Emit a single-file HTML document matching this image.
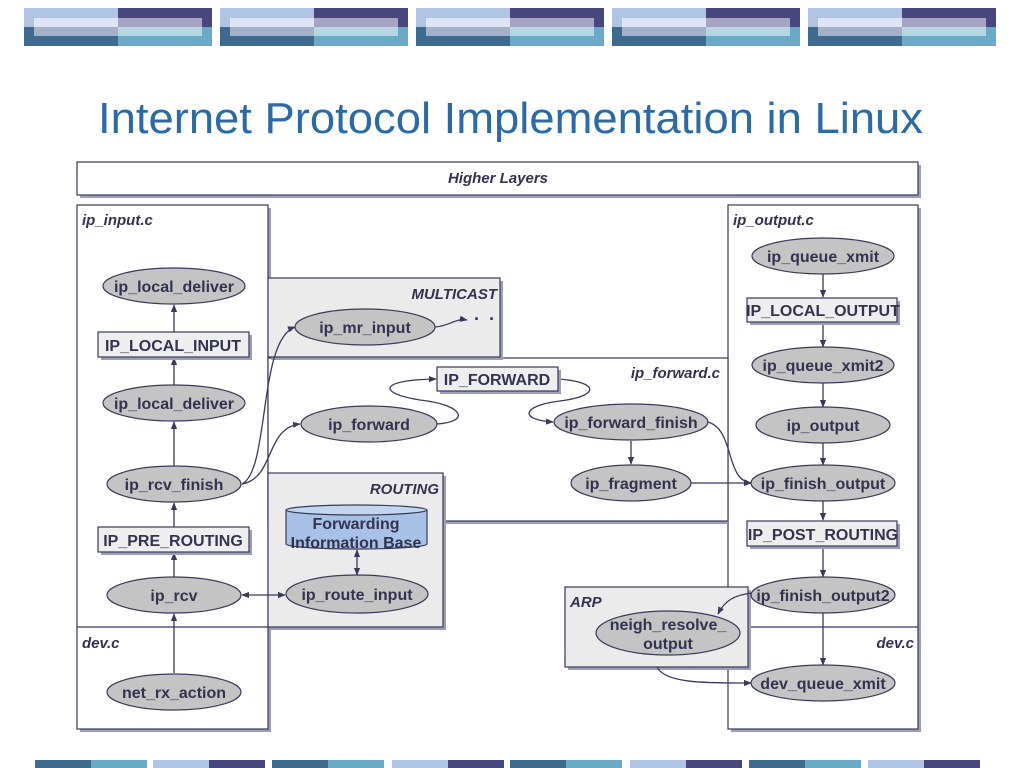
<!DOCTYPE html>
<html><head><meta charset="utf-8"><style>
html,body{margin:0;padding:0;background:#fff;width:1024px;height:768px;overflow:hidden}
svg{display:block}
.t{font-family:"Liberation Sans",sans-serif;font-weight:bold;font-size:16px;fill:#333350;text-anchor:middle}
.h{font-family:"Liberation Sans",sans-serif;font-weight:bold;font-style:italic;font-size:15px;fill:#333350}
.e{fill:#c4c4c4;stroke:#3a3a5a;stroke-width:1.2}
.r{fill:#eeeeee;stroke:#3a3a5a;stroke-width:1.2}
.sh{fill:#9aa0b8}
.ln{fill:none;stroke:#3a3a5a;stroke-width:1.3}
</style></head><body>
<svg width="1024" height="768" viewBox="0 0 1024 768" xmlns="http://www.w3.org/2000/svg">
<defs>
<marker id="a" viewBox="0 0 10 10" refX="9" refY="5" markerWidth="6" markerHeight="6" orient="auto-start-reverse"><path d="M0,1 L10,5 L0,9 z" fill="#3a3a5a"/></marker>
<g id="blk">
<rect x="0" y="0" width="94" height="19" fill="#b0c4e4"/>
<rect x="0" y="19" width="94" height="19" fill="#3d6a8e"/>
<rect x="94" y="0" width="94" height="19" fill="#47467f"/>
<rect x="94" y="19" width="94" height="19" fill="#6aaac6"/>
<rect x="10" y="10" width="84" height="9" fill="#dde4f3"/>
<rect x="10" y="19" width="84" height="9" fill="#a3b0c8"/>
<rect x="94" y="10" width="84" height="9" fill="#a7a3c2"/>
<rect x="94" y="19" width="84" height="9" fill="#b7d6e2"/>
</g>
</defs>
<use href="#blk" x="24" y="8"/><use href="#blk" x="220" y="8"/><use href="#blk" x="416" y="8"/><use href="#blk" x="612" y="8"/><use href="#blk" x="808" y="8"/>
<!-- bottom bars -->
<g>
<rect x="35" y="760" width="56" height="8" fill="#3d6a8e"/><rect x="91" y="760" width="56" height="8" fill="#6aaac6"/>
<rect x="153" y="760" width="56" height="8" fill="#b0c4e4"/><rect x="209" y="760" width="56" height="8" fill="#47467f"/>
<rect x="272" y="760" width="56" height="8" fill="#3d6a8e"/><rect x="328" y="760" width="56" height="8" fill="#6aaac6"/>
<rect x="392" y="760" width="56" height="8" fill="#b0c4e4"/><rect x="448" y="760" width="56" height="8" fill="#47467f"/>
<rect x="510" y="760" width="56" height="8" fill="#3d6a8e"/><rect x="566" y="760" width="56" height="8" fill="#6aaac6"/>
<rect x="630" y="760" width="56" height="8" fill="#b0c4e4"/><rect x="686" y="760" width="56" height="8" fill="#47467f"/>
<rect x="749" y="760" width="56" height="8" fill="#3d6a8e"/><rect x="805" y="760" width="56" height="8" fill="#6aaac6"/>
<rect x="868" y="760" width="56" height="8" fill="#b0c4e4"/><rect x="924" y="760" width="56" height="8" fill="#47467f"/>
</g>
<text x="98" y="133" textLength="825" lengthAdjust="spacingAndGlyphs" style="font-family:'Liberation Sans',sans-serif;font-size:44px;fill:#2b6aa6">Internet Protocol Implementation in Linux</text>

<!-- Higher layers -->
<rect class="sh" x="80" y="165" width="841" height="33"/>
<rect x="77" y="162" width="841" height="33" fill="#fff" stroke="#3a3a5a" stroke-width="1.2"/>
<text class="h" x="498" y="183" text-anchor="middle">Higher Layers</text>

<!-- ip_input box -->
<rect class="sh" x="80" y="208" width="191" height="524"/>
<rect x="77" y="205" width="191" height="524" fill="#fff" stroke="#3a3a5a" stroke-width="1.2"/>
<line x1="77" y1="627" x2="268" y2="627" stroke="#3a3a5a" stroke-width="1.2"/>
<text class="h" x="82" y="225">ip_input.c</text>
<text class="h" x="82" y="648">dev.c</text>

<!-- ip_output box -->
<rect class="sh" x="731" y="208" width="190" height="524"/>
<rect x="728" y="205" width="190" height="524" fill="#fff" stroke="#3a3a5a" stroke-width="1.2"/>
<line x1="728" y1="627" x2="918" y2="627" stroke="#3a3a5a" stroke-width="1.2"/>
<text class="h" x="733" y="225">ip_output.c</text>
<text class="h" x="914" y="648" text-anchor="end">dev.c</text>

<!-- ip_forward box -->
<rect class="sh" x="271" y="361" width="457" height="163"/>
<rect x="268" y="358" width="460" height="163" fill="#fff" stroke="#3a3a5a" stroke-width="1.2"/>
<text class="h" x="720" y="378" text-anchor="end">ip_forward.c</text>

<!-- MULTICAST -->
<rect class="sh" x="271" y="281" width="232" height="79"/>
<rect x="268" y="278" width="232" height="79" fill="#ebebeb" stroke="#3a3a5a" stroke-width="1.2"/>
<text class="h" x="497" y="299" text-anchor="end">MULTICAST</text>

<!-- ROUTING -->
<rect class="sh" x="271" y="476" width="175" height="154"/>
<rect x="268" y="473" width="175" height="154" fill="#ebebeb" stroke="#3a3a5a" stroke-width="1.2"/>
<text class="h" x="439" y="494" text-anchor="end">ROUTING</text>

<!-- ARP -->
<rect class="sh" x="568" y="590" width="183" height="80"/>
<rect x="565" y="587" width="183" height="80" fill="#ebebeb" stroke="#3a3a5a" stroke-width="1.2"/>
<text class="h" x="570" y="607">ARP</text>

<!-- edges -->
<g class="ln">
<line x1="174" y1="673" x2="174" y2="614" marker-end="url(#a)"/>
<line x1="174" y1="577" x2="174" y2="553" marker-end="url(#a)"/>
<line x1="174" y1="527" x2="174" y2="503" marker-end="url(#a)"/>
<line x1="174" y1="466" x2="174" y2="422" marker-end="url(#a)"/>
<line x1="174" y1="385" x2="174" y2="358" marker-end="url(#a)"/>
<line x1="174" y1="332" x2="174" y2="305" marker-end="url(#a)"/>
<path d="M242,484 C270,470 258,340 295,327" marker-end="url(#a)"/>
<path d="M242,484 C275,478 265,428 300,424" marker-end="url(#a)"/>
<line x1="242" y1="595" x2="285" y2="595" marker-start="url(#a)" marker-end="url(#a)"/>
<line x1="357" y1="550" x2="357" y2="575" marker-start="url(#a)" marker-end="url(#a)"/>
<path d="M435,327 C450,326 455,318 467,320" marker-end="url(#a)"/>
<path d="M437,424 C470,422 465,405 420,400 C380,394 375,380 436,379" marker-end="url(#a)"/>
<path d="M558,379 C600,382 600,396 560,401 C520,406 520,420 553,422" marker-end="url(#a)"/>
<line x1="631" y1="441" x2="631" y2="464" marker-end="url(#a)"/>
<path d="M708,422 C735,430 725,480 751,483" marker-end="url(#a)"/>
<line x1="691" y1="483" x2="751" y2="483" marker-end="url(#a)"/>
<line x1="823" y1="274" x2="823" y2="297" marker-end="url(#a)"/>
<line x1="823" y1="322" x2="823" y2="347" marker-end="url(#a)"/>
<line x1="823" y1="383" x2="823" y2="407" marker-end="url(#a)"/>
<line x1="823" y1="443" x2="823" y2="465" marker-end="url(#a)"/>
<line x1="823" y1="501" x2="823" y2="520" marker-end="url(#a)"/>
<line x1="823" y1="546" x2="823" y2="577" marker-end="url(#a)"/>
<line x1="823" y1="613" x2="823" y2="665" marker-end="url(#a)"/>
<path d="M752,593 C735,595 725,600 718,614" marker-end="url(#a)"/>
<path d="M657,667 C665,684 710,683 751,683" marker-end="url(#a)"/>
</g>
<text x="478" y="325" class="t" style="font-size:18px;letter-spacing:2px">· · ·</text>

<!-- rect nodes -->
<g>
<rect class="sh" x="101" y="335" width="151" height="25"/><rect class="r" x="98" y="332" width="151" height="25"/>
<text class="t" x="173" y="351">IP_LOCAL_INPUT</text>
<rect class="sh" x="101" y="530" width="151" height="25"/><rect class="r" x="98" y="527" width="151" height="25"/>
<text class="t" x="173" y="546">IP_PRE_ROUTING</text>
<rect class="sh" x="440" y="370" width="121" height="24"/><rect class="r" x="437" y="367" width="121" height="24"/>
<text class="t" x="497" y="385">IP_FORWARD</text>
<rect class="sh" x="750" y="301" width="150" height="24"/><rect class="r" x="747" y="298" width="150" height="24"/>
<text class="t" x="823" y="316">IP_LOCAL_OUTPUT</text>
<rect class="sh" x="750" y="524" width="150" height="25"/><rect class="r" x="747" y="521" width="150" height="25"/>
<text class="t" x="823" y="540">IP_POST_ROUTING</text>
</g>

<!-- FIB cylinder -->
<path d="M286,510 L286,544 A70.5,5 0 0 0 427,544 L427,510 Z" fill="#a7c2e6" stroke="#3a3a5a" stroke-width="1.2"/>
<ellipse cx="356.5" cy="510" rx="70.5" ry="5" fill="#c3d6f0" stroke="#3a3a5a" stroke-width="1.2"/>
<text class="t" x="356" y="529">Forwarding</text>
<text class="t" x="356" y="548">Information Base</text>

<!-- ellipses -->
<g>
<ellipse class="e" cx="174" cy="286" rx="71" ry="18"/><text class="t" x="174" y="292">ip_local_deliver</text>
<ellipse class="e" cx="174" cy="403" rx="71" ry="18"/><text class="t" x="174" y="409">ip_local_deliver</text>
<ellipse class="e" cx="174" cy="484" rx="67" ry="18"/><text class="t" x="174" y="490">ip_rcv_finish</text>
<ellipse class="e" cx="174" cy="595" rx="67" ry="18"/><text class="t" x="174" y="601">ip_rcv</text>
<ellipse class="e" cx="174" cy="692" rx="67" ry="18"/><text class="t" x="174" y="698">net_rx_action</text>
<ellipse class="e" cx="365" cy="327" rx="70" ry="18"/><text class="t" x="365" y="333">ip_mr_input</text>
<ellipse class="e" cx="369" cy="424" rx="68" ry="18"/><text class="t" x="369" y="430">ip_forward</text>
<ellipse class="e" cx="631" cy="422" rx="77" ry="18"/><text class="t" x="631" y="428">ip_forward_finish</text>
<ellipse class="e" cx="631" cy="483" rx="60" ry="18"/><text class="t" x="631" y="489">ip_fragment</text>
<ellipse class="e" cx="357" cy="594" rx="71" ry="19"/><text class="t" x="357" y="600">ip_route_input</text>
<ellipse class="e" cx="823" cy="256" rx="71" ry="18"/><text class="t" x="823" y="262">ip_queue_xmit</text>
<ellipse class="e" cx="823" cy="365" rx="71" ry="18"/><text class="t" x="823" y="371">ip_queue_xmit2</text>
<ellipse class="e" cx="823" cy="425" rx="67" ry="18"/><text class="t" x="823" y="431">ip_output</text>
<ellipse class="e" cx="823" cy="483" rx="72" ry="18"/><text class="t" x="823" y="489">ip_finish_output</text>
<ellipse class="e" cx="823" cy="595" rx="72" ry="18"/><text class="t" x="823" y="601">ip_finish_output2</text>
<ellipse class="e" cx="668" cy="633" rx="72" ry="22"/><text class="t" x="668" y="630">neigh_resolve_</text><text class="t" x="668" y="649">output</text>
<ellipse class="e" cx="823" cy="683" rx="72" ry="18"/><text class="t" x="823" y="689">dev_queue_xmit</text>
</g>
</svg>
</body></html>
